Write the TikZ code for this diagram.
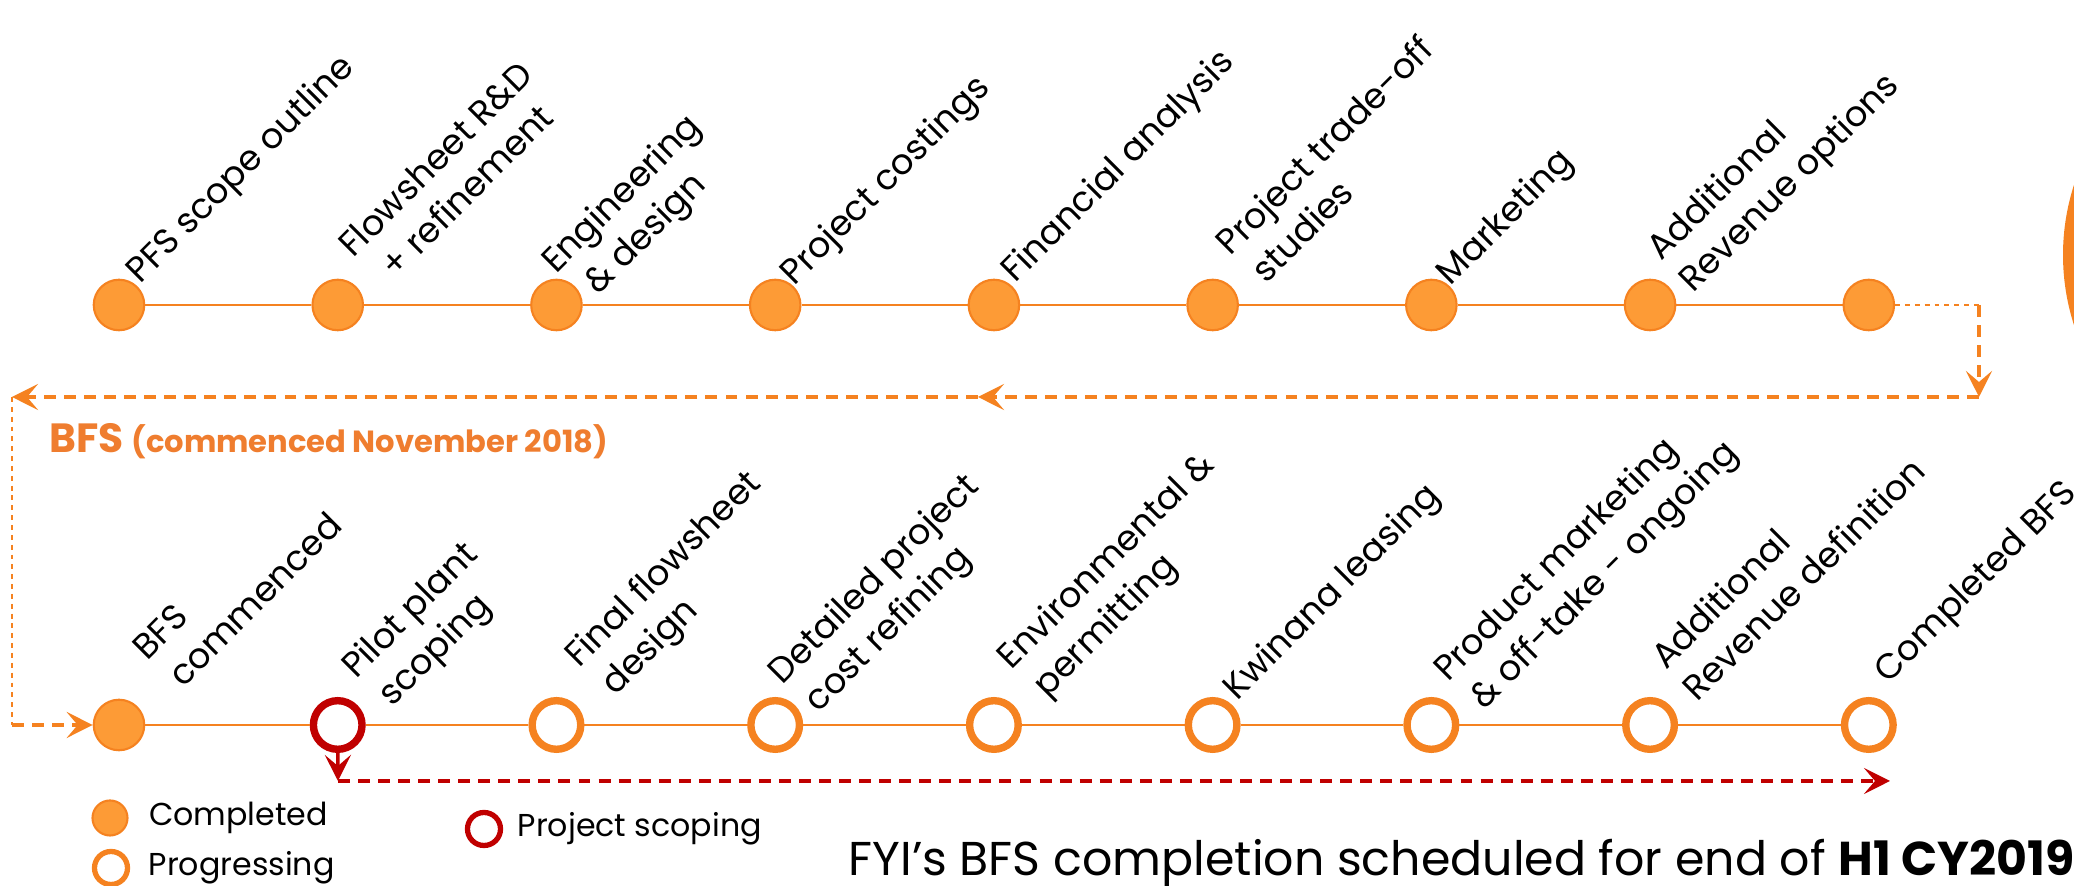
\documentclass[tikz,border=0pt]{standalone}
\usepackage{fontspec}
\setmainfont{Poppins}
\usetikzlibrary{arrows.meta, positioning}
\definecolor{fyiorange}{HTML}{F58220}
\definecolor{fyifill}{HTML}{FD9B36}
\definecolor{fyired}{HTML}{C00000}
\definecolor{fyihead}{HTML}{EF7D2F}
\newcommand{\lblfont}{\fontsize{10}{12.8}\selectfont}
\tikzstyle{done} = [circle, draw=fyiorange, fill=fyifill, line width=0.6pt, minimum size=0.505cm, inner sep=0pt]
\tikzstyle{prog} = [circle, draw=fyiorange, fill=white, line width=2.1pt, minimum size=0.486cm, inner sep=0pt]
\tikzstyle{scoped} = [prog, draw=fyired]
\tikzstyle{lbl} = [font=\lblfont, align=left, inner sep=0pt, anchor=west, rotate=45]
\tikzstyle{keytxt} = [font=\fontsize{9}{11}\selectfont, inner sep=0pt, anchor=west]
\tikzstyle{track} = [fyiorange, line width=0.6pt]
\tikzstyle{flow} = [fyiorange, line width=1pt, dash pattern=on 3.4pt off 2.3pt]
\tikzstyle{flowthin} = [fyiorange, line width=0.5pt, dash pattern=on 1.4pt off 1.4pt]
\tikzstyle{scopeline} = [fyired, line width=1pt, dash pattern=on 3.4pt off 2.3pt]
\tikzstyle{arrow} = [-{Stealth[length=0.26cm, width=0.26cm, inset=0.11cm]}]

\begin{document}
\begin{tikzpicture}[x=0.01cm, y=0.01cm, node distance=2.186cm]
\useasboundingbox (0,0) rectangle (2074,-886);
\begin{scope}
\clip (0,0) rectangle (2074,-886);
\fill [fyiorange] (2291,-255) circle (228);
\end{scope}

% PFS row
\node (t1) [done] at (119,-305) {};
\node (t2) [done, right of=t1] {};
\node (t3) [done, right of=t2] {};
\node (t4) [done, right of=t3] {};
\node (t5) [done, right of=t4] {};
\node (t6) [done, right of=t5] {};
\node (t7) [done, right of=t6] {};
\node (t8) [done, right of=t7] {};
\node (t9) [done, right of=t8] {};

% BFS row
\node (b1) [done] at (119,-725) {};
\node (b2) [scoped, right of=b1] {};
\node (b3) [prog, right of=b2] {};
\node (b4) [prog, right of=b3] {};
\node (b5) [prog, right of=b4] {};
\node (b6) [prog, right of=b5] {};
\node (b7) [prog, right of=b6] {};
\node (b8) [prog, right of=b7] {};
\node (b9) [prog, right of=b8] {};

\node (lt1) [lbl] at ([shift={(15,26)}]t1) {PFS scope outline};
\node (lt2) [lbl] at ([shift={(22,39)}]t2) {Flowsheet R\&D\\\hspace*{0.15cm}+ refinement};
\node (lt3) [lbl] at ([shift={(9,20)}]t3) {Engineering\\\hspace*{0.15cm}\& design};
\node (lt4) [lbl] at ([shift={(13,24)}]t4) {Project costings};
\node (lt5) [lbl] at ([shift={(15,27)}]t5) {Financial analysis};
\node (lt6) [lbl] at ([shift={(24,41)}]t6) {Project trade-off\\\hspace*{0.06cm}studies};
\node (lt7) [lbl] at ([shift={(13,24)}]t7) {Marketing};
\node (lt8) [lbl] at ([shift={(21,33)}]t8) {Additional\\Revenue options};

\node (lb1) [lbl] at ([shift={(35,56)}]b1) {BFS\\\hspace*{0.06cm}commenced};
\node (lb2) [lbl] at ([shift={(28,35)}]b2) {Pilot plant\\\hspace*{0.06cm}scoping};
\node (lb3) [lbl] at ([shift={(32,46)}]b3) {Final flowsheet\\\hspace*{0.06cm}design};
\node (lb4) [lbl] at ([shift={(17,29)}]b4) {Detailed project\\\hspace*{0.06cm}cost refining};
\node (lb5) [lbl] at ([shift={(27,44)}]b5) {Environmental \&\\\hspace*{0.06cm}permitting};
\node (lb6) [lbl] at ([shift={(18,29)}]b6) {Kwinana leasing};
\node (lb7) [lbl] at ([shift={(26,32)}]b7) {Product marketing\\\hspace*{0.06cm}\& off-take - ongoing};
\node (lb8) [lbl] at ([shift={(22,47)}]b8) {Additional\\Revenue definition};
\node (lb9) [lbl] at ([shift={(13,46)}]b9) {Completed BFS};

\node (bfshead) [anchor=base west, text=fyihead, font=\bfseries, inner sep=0pt] at (49,-453) {{\fontsize{11.6}{14}\selectfont BFS} {\fontsize{8.7}{10}\selectfont (commenced November 2018)}};

% key
\node (keydone) [done, minimum size=0.35cm] at (110,-818) {};
\node (keydonetxt) [keytxt, right=0.2cm of keydone] {Completed};
\node (keyprog) [prog, minimum size=0.33cm, line width=1.5pt] at (111,-868) {};
\node (keyprogtxt) [keytxt, right=0.18cm of keyprog] {Progressing};
\node (keyscope) [scoped, minimum size=0.33cm, line width=1.5pt] at (484,-829) {};
\node (keyscopetxt) [keytxt, right=0.14cm of keyscope] {Project scoping};

\node (note) [anchor=base west, inner sep=0pt, font=\fontsize{13.5}{16}\selectfont] at (848,-876) {FYI’s BFS completion scheduled for end of \textbf{H1 CY2019}};

\coordinate (bendR) at (1979,-397);
\coordinate (midL) at (978,-397);
\coordinate (bendL) at (12,-397);
\coordinate (bendB) at (12,-725);
\coordinate (scopeC) at (338,-781);
\coordinate (scopeE) at (1890,-781);

\draw [track] (t1) -- (t2);
\draw [track] (t2) -- (t3);
\draw [track] (t3) -- (t4);
\draw [track] (t4) -- (t5);
\draw [track] (t5) -- (t6);
\draw [track] (t6) -- (t7);
\draw [track] (t7) -- (t8);
\draw [track] (t8) -- (t9);
\draw [track] (b1) -- (b2);
\draw [track] (b2) -- (b3);
\draw [track] (b3) -- (b4);
\draw [track] (b4) -- (b5);
\draw [track] (b5) -- (b6);
\draw [track] (b6) -- (b7);
\draw [track] (b7) -- (b8);
\draw [track] (b8) -- (b9);

\draw [flowthin] (t9) -- (t9 -| bendR);
\draw [flow, arrow] (t9 -| bendR) -- (bendR);
\draw [flow, arrow] (bendR) -- (midL);
\draw [flow, arrow] (midL) -- (bendL);
\draw [flowthin] (bendL) -- (bendB);
\draw [flow, arrow] (bendB) -- (b1);

\draw [scopeline, solid, arrow] (b2) -- (scopeC);
\draw [scopeline, arrow] (scopeC) -- (scopeE);

\end{tikzpicture}
\end{document}
